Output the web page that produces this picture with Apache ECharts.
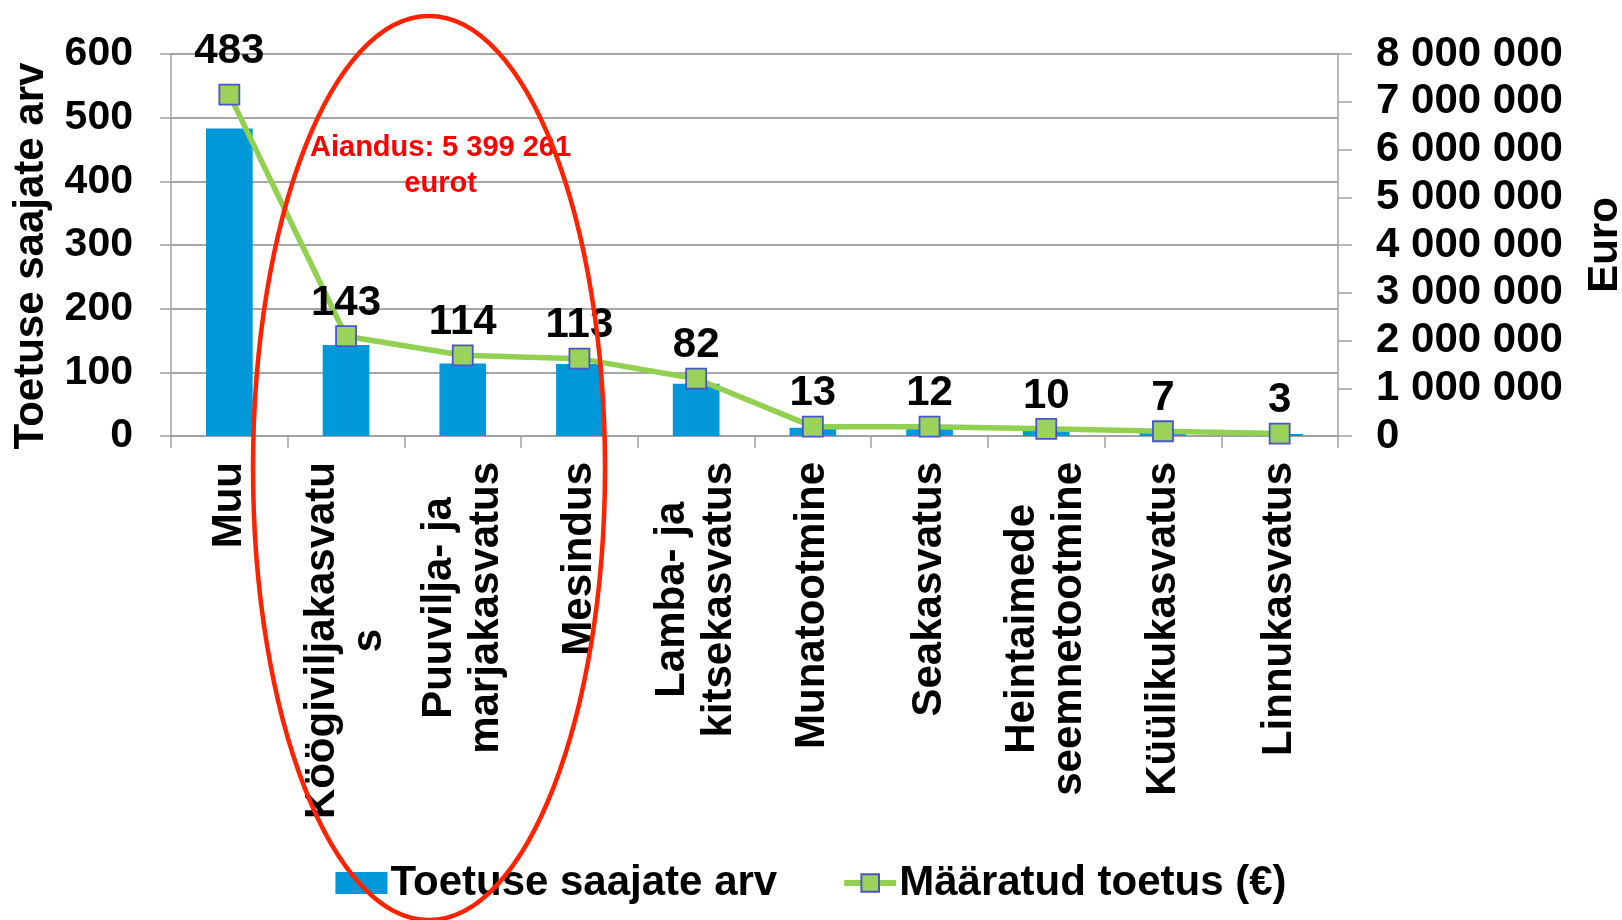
<!DOCTYPE html>
<html>
<head>
<meta charset="utf-8">
<script src="https://cdn.jsdelivr.net/npm/echarts@6/dist/echarts.min.js"></script>
<style>
html,body{margin:0;padding:0;background:#fff;}
#chart{width:1622px;height:920px;}
</style>
</head>
<body>
<div id="chart"></div>
<script>
var categories = ['Muu', 'Köögiviljakasvatu\ns', 'Puuvilja- ja\nmarjakasvatus', 'Mesindus', 'Lamba- ja\nkitsekasvatus', 'Munatootmine', 'Seakasvatus', 'Heintaimede\nseemnetootmine', 'Küülikukasvatus', 'Linnukasvatus'];
var recipients = [483, 143, 114, 113, 82, 13, 12, 10, 7, 3];
var support = [7150000, 2090000, 1690000, 1620000, 1200000, 196000, 196000, 150000, 100000, 50000];
var leftTicks = {min: 0, max: 600, interval: 100};
var rightTicks = {min: 0, max: 8000000, interval: 1000000};
var barName = 'Toetuse saajate arv';
var lineName = 'Määratud toetus (€)';
var annotation = 'Aiandus: 5 399 261\neurot';

var FONT = '"Liberation Sans", Arial, Helvetica, sans-serif';
var chart = echarts.init(document.getElementById('chart'), null, {renderer: 'canvas'});

function spaced(v) { return String(v).replace(/\B(?=(\d{3})+(?!\d))/g, ' '); }

var lineData = support.map(function (v, i) {
  if (i === 0) return {value: v, label: {distance: 11}};
  return v;
});

var option = {
  animation: false,
  backgroundColor: '#fff',
  textStyle: {fontFamily: FONT},
  grid: {left: 171, right: 284, top: 54, bottom: 484, containLabel: false, outerBoundsMode: 'none'},
  legend: {
    top: 857, left: 'center',
    itemWidth: 52, itemHeight: 22, itemGap: 64,
    textStyle: {fontFamily: FONT, fontSize: 42, fontWeight: 'bold', color: '#000', padding: [0, 0, 0, -2]},
    data: [
      {name: barName, icon: 'rect'},
      {name: lineName, lineStyle: {width: 6, color: '#92d050'}}
    ]
  },
  xAxis: {
    type: 'category', data: categories, boundaryGap: true,
    axisLine: {lineStyle: {color: '#a0a0a0', width: 1.5}},
    axisTick: {show: true, length: 12, interval: 0, lineStyle: {color: '#a0a0a0', width: 1.5}},
    axisLabel: {
      interval: 0, rotate: 90, margin: 26,
      fontFamily: FONT, fontSize: 42, fontWeight: 'bold', color: '#000', lineHeight: 47,
      formatter: function (v) { return v.split('\n').map(function (l) { return '{c|' + l + '}'; }).join('\n'); },
      rich: {c: {align: 'center', fontFamily: FONT, fontSize: 42, fontWeight: 'bold', color: '#000', lineHeight: 47}}
    }
  },
  yAxis: [{
    type: 'value', min: leftTicks.min, max: leftTicks.max, interval: leftTicks.interval,
    name: 'Toetuse saajate arv', nameLocation: 'middle', nameRotate: 90, nameGap: 119,
    nameTextStyle: {fontFamily: FONT, fontSize: 42, fontWeight: 'bold', color: '#000', padding: [0, 22, 0, 0]},
    axisLine: {show: true, lineStyle: {color: '#a0a0a0', width: 1.5}},
    axisTick: {show: true, length: 11, lineStyle: {color: '#a0a0a0', width: 1.5}},
    axisLabel: {margin: 38, fontFamily: FONT, fontSize: 41, fontWeight: 'bold', color: '#000'},
    splitLine: {show: true, lineStyle: {color: '#a6a6a6', width: 2}}
  }, {
    type: 'value', min: rightTicks.min, max: rightTicks.max, interval: rightTicks.interval,
    position: 'right',
    name: 'Euro', nameLocation: 'middle', nameRotate: 90, nameGap: 246,
    nameTextStyle: {fontFamily: FONT, fontSize: 42, fontWeight: 'bold', color: '#000'},
    axisLine: {show: true, lineStyle: {color: '#a0a0a0', width: 1.5}},
    axisTick: {show: true, length: 14, lineStyle: {color: '#a0a0a0', width: 1.5}},
    axisLabel: {margin: 38, fontFamily: FONT, fontSize: 42, fontWeight: 'bold', color: '#000', formatter: spaced},
    splitLine: {show: false}
  }],
  series: [{
    name: barName, type: 'bar', yAxisIndex: 0, data: recipients,
    barWidth: '40%',
    itemStyle: {color: '#0098d8'},
    z: 2
  }, {
    name: lineName, type: 'line', yAxisIndex: 1, data: lineData,
    symbol: 'rect', symbolSize: 20,
    lineStyle: {color: '#92d050', width: 5.5},
    itemStyle: {color: '#9bd35a', borderColor: '#4a55c8', borderWidth: 1.8},
    label: {
      show: true, position: 'top', distance: 1,
      fontFamily: FONT, fontSize: 42, fontWeight: 'bold', color: '#000',
      formatter: function (p) { return recipients[p.dataIndex]; }
    },
    z: 3
  }],
  graphic: [{
    type: 'text', left: 310, top: 130, z: 100,
    style: {text: annotation, fill: '#ff0000', font: 'bold 29px ' + FONT, textAlign: 'center', lineHeight: 36, x: 148, y: 0}
  }, {
    type: 'ellipse', z: 101, silent: true,
    shape: {cx: 429, cy: 468, rx: 176, ry: 452},
    style: {fill: 'none', stroke: '#ff2200', lineWidth: 4.5}
  }]
};
chart.setOption(option);
</script>
</body>
</html>
